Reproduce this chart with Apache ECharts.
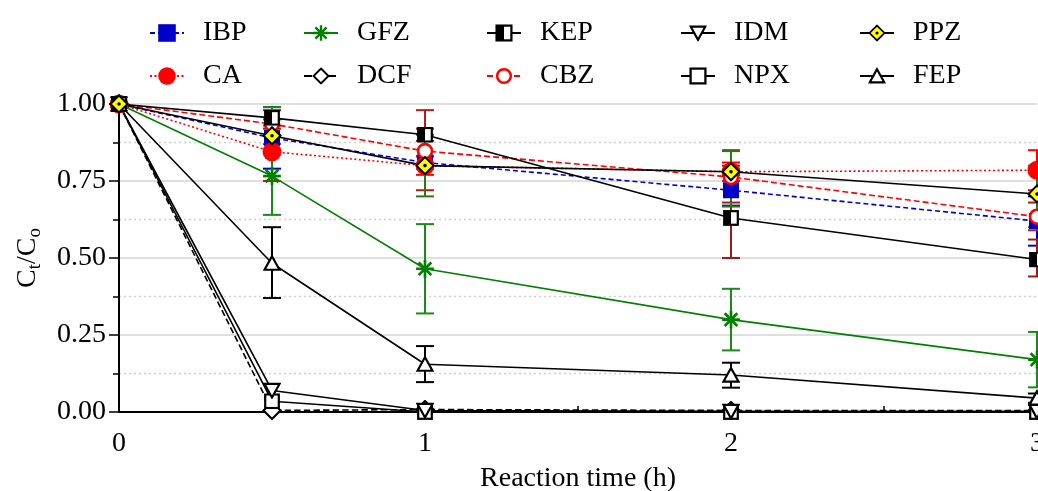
<!DOCTYPE html>
<html><head><meta charset="utf-8">
<script src="https://cdn.jsdelivr.net/npm/echarts@6/dist/echarts.min.js"></script>
<style>html,body{margin:0;padding:0;background:#fff;width:100%;height:100%;overflow:hidden}#c{position:absolute;left:0;top:0;width:100vw;height:100vh}</style>
</head><body><div id="c"></div>
<script>
// ---- data ----
const times = [0, 0.5, 1, 2, 3];
const yTicks = [0, 0.25, 0.5, 0.75, 1];
const IBP = [1.00, 0.89, 0.81, 0.72, 0.62];
const CA  = [1.00, 0.845, 0.80, 0.78, 0.785];
const GFZ = [1.00, 0.766, 0.465, 0.30, 0.17];
const DCF = [1.00, 0.005, 0.008, 0.005, 0.005];
const KEP = [1.00, 0.955, 0.90, 0.63, 0.495];
const CBZ = [1.00, 0.935, 0.847, 0.763, 0.634];
const IDM = [1.00, 0.07, 0.005, 0.002, 0.002];
const NPX = [1.00, 0.035, 0.0, 0.0, 0.0];
const PPZ = [1.00, 0.897, 0.80, 0.78, 0.708];
const FEP = [1.00, 0.483, 0.155, 0.12, 0.045];
// error bars [low, high]
const IBP_err = [null, [0.79, 0.99], [0.79, 0.83], [0.67, 0.77], [0.54, 0.70]];
const CA_err  = [null, [0.75, 0.95], [0.77, 0.83], [0.75, 0.81], [0.72, 0.85]];
const GFZ_err = [null, [0.64, 0.99], [0.32, 0.61], [0.20, 0.40], [0.08, 0.26]];
const KEP_err = [null, [0.92, 0.99], [0.88, 0.92], [0.50, 0.85], [0.44, 0.56]];
const CBZ_err = [null, [0.90, 0.98], [0.72, 0.98], [0.68, 0.80], [0.59, 0.68]];
const PPZ_err = [null, [0.87, 0.93], [0.70, 0.90], [0.667, 0.847], [0.60, 0.80]];
const FEP_err = [null, [0.37, 0.60], [0.097, 0.214], [0.079, 0.16], [0.03, 0.06]];

const FONT = '"Liberation Serif", "Times New Roman", serif';
function svgSym(w, h, body) {
  const s = `<svg xmlns="http://www.w3.org/2000/svg" width="${w}" height="${h}" viewBox="0 0 ${w} ${h}">${body}</svg>`;
  return 'image://data:image/svg+xml;charset=utf-8,' + encodeURIComponent(s);
}
const sym = {
  CBZ: svgSym(18, 18, '<circle cx="9" cy="9" r="7" fill="#fff" stroke="#ff0000" stroke-width="2.6"/>'),
  DCF: svgSym(20, 20, '<polygon points="10,1.5 18.5,10 10,18.5 1.5,10" fill="#fff" stroke="#000" stroke-width="2.2"/>'),
  KEP: svgSym(16, 16, '<rect x="1.2" y="1.2" width="13.6" height="13.6" fill="#fff" stroke="#000" stroke-width="2.2"/><rect x="1.2" y="1.2" width="6.8" height="13.6" fill="#000"/>'),
  IDM: svgSym(18, 18, '<polygon points="1.5,2.5 16.5,2.5 9,16" fill="#fff" stroke="#000" stroke-width="2.2"/>'),
  NPX: svgSym(16, 16, '<rect x="1.2" y="1.2" width="13.6" height="13.6" fill="#fff" stroke="#000" stroke-width="2.2"/>'),
  FEP: svgSym(18, 18, '<polygon points="9,2 16.5,15.5 1.5,15.5" fill="#fff" stroke="#000" stroke-width="2.2"/>'),
  PPZ: svgSym(20, 20, '<polygon points="10,1.5 18.5,10 10,18.5 1.5,10" fill="#ffff00" stroke="#000" stroke-width="2"/><circle cx="10" cy="10" r="1.8" fill="#000"/>'),
  GFZ: svgSym(18, 18, '<g stroke="#008000" stroke-width="2.4" stroke-linecap="butt"><line x1="9" y1="1" x2="9" y2="17"/><line x1="1" y1="9" x2="17" y2="9"/><line x1="3.3" y1="3.3" x2="14.7" y2="14.7"/><line x1="14.7" y1="3.3" x2="3.3" y2="14.7"/></g>')
};

function pts(arr) { return times.map((t, i) => [t, arr[i]]); }
function lineSeries(name, arr, color, type, symbol, size, extra) {
  return Object.assign({
    name, type: 'line', data: pts(arr), symbol, symbolSize: size, z: 3,
    lineStyle: { color, width: 1.6, type }, itemStyle: { color },
    emphasis: { disabled: true }, animation: false, clip: false
  }, extra || {});
}
function errSeries(name, errs, color) {
  const data = [];
  times.forEach((t, i) => { if (errs[i]) data.push([t, errs[i][0], errs[i][1]]); });
  return {
    name: name + ' error', type: 'custom', data, z: 2, animation: false, silent: true,
    encode: { x: 0, y: [1, 2] },
    renderItem(params, api) {
      const x = api.value(0);
      const lo = api.coord([x, api.value(1)]);
      const hi = api.coord([x, api.value(2)]);
      const hw = 9;
      const st = { stroke: color, lineWidth: 2 };
      return { type: 'group', children: [
        { type: 'line', shape: { x1: lo[0], y1: lo[1], x2: hi[0], y2: hi[1] }, style: st },
        { type: 'line', shape: { x1: lo[0] - hw, y1: lo[1], x2: lo[0] + hw, y2: lo[1] }, style: st },
        { type: 'line', shape: { x1: hi[0] - hw, y1: hi[1], x2: hi[0] + hw, y2: hi[1] }, style: st }
      ]};
    }
  };
}

const series = [
  errSeries('FEP', FEP_err, '#000000'),
  errSeries('IBP', IBP_err, '#0000cc'),
  errSeries('CA', CA_err, '#ff0000'),
  errSeries('CBZ', CBZ_err, '#b01c1c'),
  errSeries('KEP', KEP_err, '#a01818'),
  errSeries('GFZ', GFZ_err, '#1a8a1a'),
  errSeries('PPZ', PPZ_err, '#2a7a10'),
  lineSeries('DCF', DCF, '#000', 'dashed', sym.DCF, 20),
  lineSeries('NPX', NPX, '#000', 'solid', sym.NPX, 16),
  lineSeries('IDM', IDM, '#000', 'solid', sym.IDM, 18),
  lineSeries('FEP', FEP, '#000', 'solid', sym.FEP, 18),
  lineSeries('GFZ', GFZ, '#008000', 'solid', sym.GFZ, 20),
  lineSeries('IBP', IBP, '#0000cc', [5, 3], 'rect', 16),
  lineSeries('CA', CA, '#ff0000', [2, 2.5], 'circle', 19),
  lineSeries('CBZ', CBZ, '#ff0000', [6, 3], sym.CBZ, 18),
  lineSeries('KEP', KEP, '#000', 'solid', sym.KEP, 16),
  lineSeries('PPZ', PPZ, '#000', 'solid', sym.PPZ, 20)
];

const legendCols = [
  { left: 149, items: ['IBP', 'CA'] },
  { left: 303, items: ['GFZ', 'DCF'] },
  { left: 486, items: ['KEP', 'CBZ'] },
  { left: 680, items: ['IDM', 'NPX'] },
  { left: 859, items: ['PPZ', 'FEP'] }
];
const legends = legendCols.map(c => ({
  orient: 'vertical', left: c.left, top: 18, padding: 0, data: c.items,
  itemWidth: 34, itemHeight: 22, itemGap: 13, selectedMode: false,
  textStyle: { fontFamily: FONT, fontSize: 28, color: '#000', lineHeight: 30, padding: [0, 0, 0, 14] }
}));

const chart = echarts.init(document.getElementById('c'), null, { renderer: 'canvas' });
chart.setOption({
  animation: false,
  backgroundColor: '#fff',
  legend: legends,
  grid: { left: 119, right: 1, top: 104, bottom: 79, containLabel: false, outerBoundsMode: 'none' },
  xAxis: {
    type: 'value', min: 0, max: 3, interval: 1,
    name: 'Reaction time (h)', nameLocation: 'middle', nameGap: 53,
    nameTextStyle: { fontFamily: FONT, fontSize: 28, color: '#000' },
    axisLine: { onZero: false, lineStyle: { color: '#000', width: 2 } },
    axisTick: { show: true, inside: true, length: 7, lineStyle: { color: '#000', width: 1.5 } },
    minorTick: { show: true, splitNumber: 2, length: 6, lineStyle: { color: '#000', width: 1.5 } },
    axisLabel: { fontFamily: FONT, fontSize: 28, color: '#000', margin: 18 },
    splitLine: { show: false }
  },
  yAxis: {
    type: 'value', min: yTicks[0], max: yTicks[yTicks.length - 1], interval: 0.25,
    name: '{a|C}{b|t}{a|/C}{b|o}', nameLocation: 'middle', nameGap: 76, nameRotate: 90,
    nameTextStyle: { rich: {
      a: { fontFamily: FONT, fontSize: 28, color: '#000', lineHeight: 30 },
      b: { fontFamily: FONT, fontSize: 19, color: '#000', lineHeight: 30, padding: [14, 0, 0, 0] }
    } },
    axisLine: { show: true, lineStyle: { color: '#000', width: 2 } },
    axisTick: { show: true, length: 10, lineStyle: { color: '#000', width: 1.5 } },
    minorTick: { show: true, splitNumber: 2, length: 6, lineStyle: { color: '#000', width: 1.5 } },
    axisLabel: { fontFamily: FONT, fontSize: 28, color: '#000', margin: 13, formatter: v => v.toFixed(2) },
    splitLine: { show: true, lineStyle: { color: '#d4d4d4', width: 1.6 } },
    minorSplitLine: { show: true, lineStyle: { color: '#cfcfcf', width: 1.4, type: [2, 3] } }
  },
  series
});
</script></body></html>
